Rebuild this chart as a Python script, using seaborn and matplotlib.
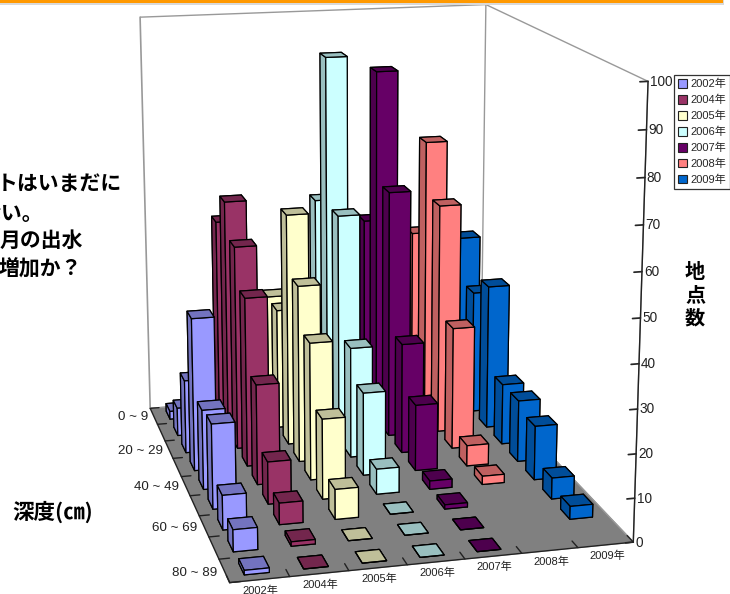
import numpy as np
import matplotlib
matplotlib.use("Agg")
import matplotlib.pyplot as plt
from matplotlib.patches import Patch, Rectangle
import seaborn as sns

nan = float("nan")

depth_labels = ["0 ~ 9", "20 ~ 29", "40 ~ 49", "60 ~ 69", "80 ~ 89"]
depth_label_rows = [0, 2, 4, 6, 8]
depth_rows = 9
years = ["2002年", "2004年", "2005年", "2006年", "2007年", "2008年", "2009年"]

counts_2002 = [2, 7, 18, 37, 19, 20, 8, 5, 1]
counts_2004 = [50, 58, 50, 41, 24, 10, 5, 1, 0]
counts_2005 = [30, 30, 57, 43, 33, 19, 7, 0, 0]
counts_2006 = [54, 92, 56, 27, 20, 6, 0, 0, 0]
counts_2007 = [48, 88, 61, 27, 16, 2, 1, 0, 0]
counts_2008 = [44, 70, 57, 30, 5, 2, nan, nan, nan]
counts_2009 = [42, 31, 36, 15, 15, 13, 5, 3, nan]
series = [counts_2002, counts_2004, counts_2005, counts_2006,
          counts_2007, counts_2008, counts_2009]

bar_colors = ["#9999FF", "#993366", "#FFFFCC", "#CCFFFF",
              "#660066", "#FF8080", "#0066CC"]

note_lines = ["トはいまだに", "ない。", "月の出水", "増加か？"]

sns.set_theme(style="white")
plt.rcParams["font.family"] = ["Liberation Sans", "Noto Sans CJK JP"]
palette = sns.color_palette(bar_colors)

W, H = 730, 594
fig = plt.figure(figsize=(W / 100, H / 100), dpi=100, facecolor="white")
ax = fig.add_axes([0, 0, 1, 1], projection="3d", computed_zorder=False)
ax.set_xlim(0, len(years))
ax.set_ylim(0, depth_rows)
ax.set_zlim(0, 100)
ax.apply_aspect()

# Camera: a pinhole projection solved from where the plot box corners land.
nx, ny = len(years), depth_rows
box = [((0, 0, 0), (150, 409)), ((0, ny, 0), (230, 582)), ((nx, ny, 0), (633, 543)),
       ((nx, 0, 0), (481, 381)), ((0, 0, 100), (140, 17)), ((nx, 0, 100), (486, 5)),
       ((nx, ny, 100), (648, 81))]
rows = []
for (X, Y, Z), (u, v) in box:
    p = [X / nx, Y / ny, Z / 100, 1]
    u, v = u / 1000, v / 1000
    rows.append(p + [0, 0, 0, 0] + [-u * c for c in p])
    rows.append([0, 0, 0, 0] + p + [-v * c for c in p])
P = np.linalg.svd(np.array(rows))[2][-1].reshape(3, 4)
P = np.diag([1000, 1000, 1]) @ P @ np.diag([1 / nx, 1 / ny, 1 / 100, 1])
if P[2] @ np.array([0, 0, 0, 1]) < 0:
    P = -P
to_view = np.linalg.inv(ax.transData.get_matrix()) @ np.array(
    [[1, 0, 0], [0, -1, H], [0, 0, 1]], dtype=float)
P = to_view @ P
camera = np.vstack([P[0], P[1], [0, 0, 0, -1], P[2]])
ax.get_proj = lambda: camera

ax.grid(False)
ax.xaxis.set_pane_color("white")
ax.yaxis.set_pane_color("white")
ax.zaxis.set_pane_color("#808080")
for axis in (ax.xaxis, ax.yaxis, ax.zaxis):
    axis.pane.set_edgecolor("#999999")
    axis.pane.set_linewidth(1.0)
    axis.line.set_color("#222222")
    axis.line.set_linewidth(1.0)
    axis._axinfo["tick"]["outward_factor"] = 0
    axis._axinfo["tick"]["inward_factor"] = 0
ax.zaxis._axinfo["tick"]["inward_factor"] = 0.25
ax.zaxis._axinfo["tick"]["color"] = "#222222"

# The value axis runs up the near right-hand corner of the box.
ax.zaxis._get_axis_line_edge_points = lambda minmax, maxmin, position=None: (
    np.array([nx, ny, 0.0]), np.array([nx, ny, 100.0]))

ax.set_xticks(np.arange(nx) + 0.5, years, fontsize=8, color="#222222")
ax.set_yticks(np.array(depth_label_rows) + 0.5, depth_labels, fontsize=9.6,
              color="#222222", ha="right", va="bottom")
ax.set_zticks(np.arange(0, 101, 10), [str(v) for v in range(0, 101, 10)],
              fontsize=9.8, color="#222222", ha="left", va="center")
ax.tick_params(axis="x", pad=-6)
ax.tick_params(axis="y", pad=-4.3)
ax.tick_params(axis="z", pad=-7.3)

# Far left edge of the back wall.
ax.plot([0, 0], [0, 0], [0, 100], color="#999999", lw=1.2, zorder=1)

# Inward tick marks on the floor edges, at the category boundaries.
for cx in range(nx + 1):
    ax.plot([cx, cx], [ny, ny - 0.3], [0, 0], color="#222222", lw=1, zorder=1)
for cy in range(ny + 1):
    ax.plot([0, 0.18], [cy, cy], [0, 0], color="#222222", lw=1, zorder=1)

# Boxes are painted back row first, and right to left inside a row.
bar_w, bar_d = 0.42, 0.5
order = 2
for row in range(ny):
    for col in range(nx - 1, -1, -1):
        value = series[col][row]
        if np.isnan(value):
            continue
        base = palette[col]
        dark = tuple(c * 0.75 for c in base)
        # face order: bottom, top, back, front, left, right
        faces = [dark, dark, dark, base, dark, dark]
        ax.bar3d(col + (1 - bar_w) / 2, row + (1 - bar_d) / 2, 0,
                 bar_w, bar_d, value, color=faces, shade=False,
                 edgecolor="black", linewidth=0.9, zorder=order)
        order += 1

handles = [Patch(facecolor=palette[i], edgecolor="#222222", linewidth=0.8, label=years[i])
           for i in range(nx)]
legend = fig.legend(handles=handles, loc="upper left",
                    bbox_to_anchor=(674 / W, 1 - 75 / H), fontsize=8,
                    frameon=True, fancybox=False, framealpha=1, edgecolor="#333333",
                    borderpad=0.35, labelspacing=0.5, handlelength=0.85,
                    handleheight=0.85, handletextpad=0.3, borderaxespad=0)
legend.get_frame().set_linewidth(0.9)

heading = {"family": ["Noto Sans CJK JP"], "fontweight": "bold", "color": "black"}
for line, right, y in zip(note_lines, [122, 43, 83, 82], [183, 213, 240, 269]):
    fig.text(right / W, 1 - y / H, line, ha="right", va="center", fontsize=15, **heading)
fig.text(12 / W, 1 - 512 / H, "深度(㎝)", ha="left", va="center", fontsize=15.5, **heading)
for ch, y in zip("地点数", [272, 295, 318]):
    fig.text(695 / W, 1 - y / H, ch, ha="center", va="center", fontsize=14.5, **heading)

# Header rule along the top edge with its faint shadow.
fig.add_artist(Rectangle((0, 1 - 5 / H), 724 / W, 5 / H, transform=fig.transFigure,
                         facecolor="#D9D9D9", edgecolor="none"))
fig.add_artist(Rectangle((0, 1 - 3 / H), 723 / W, 3 / H, transform=fig.transFigure,
                         facecolor="#FF9900", edgecolor="none"))

fig.savefig("out.png", dpi=100)
